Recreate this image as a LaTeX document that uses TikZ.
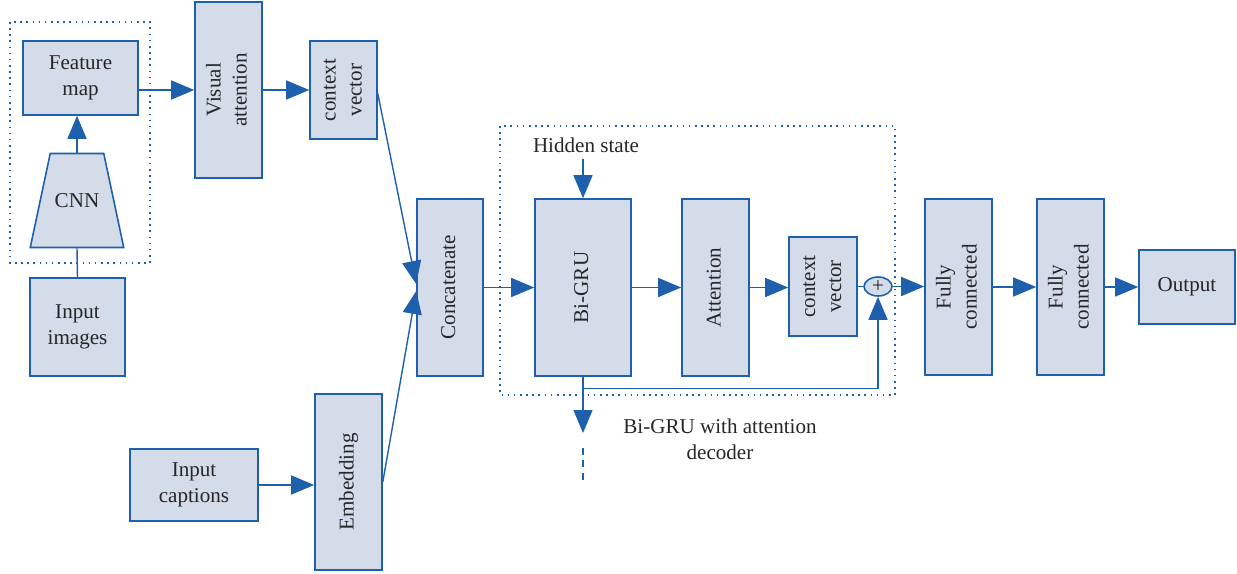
\documentclass[tikz,border=0pt]{standalone}
\usepackage{fontspec}
\setmainfont{Liberation Serif}
\usepackage{tikz}
\usetikzlibrary{arrows.meta}
\usetikzlibrary{calc,shapes}
\usetikzlibrary{positioning, fit, shapes.geometric}
\definecolor{lineblue}{RGB}{30,96,172}
\definecolor{boxfill}{RGB}{212,219,233}
\newcommand{\vtext}[1]{\rotatebox{90}{\begin{tabular}{@{}c@{}}#1\end{tabular}}}

\begin{document}
\begin{tikzpicture}[x=0.02cm,y=-0.02cm,
  every node/.style={font=\fontsize{12}{14.8}\selectfont,text=black!85},
  blk/.style={draw=lineblue,line width=0.9pt,fill=boxfill,inner sep=0pt,align=center},
  arr/.style={draw=lineblue,line width=0.8pt,-{Triangle[length=0.46cm,width=0.38cm]}},
  ln/.style={draw=lineblue,line width=0.8pt},
  grp/.style={draw=lineblue,line width=0.8pt,dash pattern=on 0.9pt off 2.6pt}]
\useasboundingbox (0,0) rectangle (1237,574);

% image branch
\draw[grp] (10,22) rectangle (150,263);
\node (fmap) at (80.5,78) [blk,minimum width=2.3cm,minimum height=1.48cm] {Feature\\map};
\node (cnn) at (77,200.5) [blk,trapezium,trapezium angle=78,inner xsep=0.09cm,inner ysep=0.8cm,text height=8pt,text depth=0pt] {CNN};
\node (inimg) at (77.5,327) [blk,minimum width=1.9cm,minimum height=1.96cm] {Input\\images};
\node (vatt) at (228.5,90) [blk,minimum width=1.34cm,minimum height=3.52cm] {\vtext{Visual\\attention}};
\node (cv1) at (343.5,90) [blk,minimum width=1.34cm,minimum height=1.96cm] {\vtext{context\\vector}};

% caption branch
\node (incap) at (194,485) [blk,minimum width=2.56cm,minimum height=1.44cm] {Input\\captions};
\node (embed) at (348.5,482) [blk,minimum width=1.34cm,minimum height=3.52cm] {\vtext{Embedding}};
\node (concat) at (450,287.5) [blk,minimum width=1.32cm,minimum height=3.54cm] {\vtext{Concatenate}};

% decoder
\draw[grp] (500,126) rectangle (895,395);
\node (hid) at (586,145) {Hidden state};
\node (bigru) at (583,287.5) [blk,minimum width=1.92cm,minimum height=3.54cm] {\vtext{Bi-GRU}};
\node (att) at (715.5,287.5) [blk,minimum width=1.34cm,minimum height=3.54cm] {\vtext{Attention}};
\node (cv2) at (823,286.5) [blk,minimum width=1.36cm,minimum height=1.98cm] {\vtext{context\\vector}};
\node (plus) at (878,286.5) [blk,ellipse,minimum width=0.56cm,minimum height=0.38cm] {+};
\node (dec) at (720,439) [align=center] {Bi-GRU with attention\\decoder};
\coordinate (gtip) at (583,433);
\coordinate (dsh1) at (583,448);
\coordinate (dsh2) at (583,482);

% output
\node (fc1) at (958.5,287) [blk,minimum width=1.34cm,minimum height=3.52cm] {\vtext{Fully\\connected}};
\node (fc2) at (1070.5,287) [blk,minimum width=1.34cm,minimum height=3.52cm] {\vtext{Fully\\connected}};
\node (out) at (1187,287) [blk,minimum width=1.92cm,minimum height=1.48cm] {Output};

\draw[ln] (inimg.north) -- (cnn.south);
\draw[arr] (cnn.north) -- (cnn.north |- fmap.south);
\draw[arr] (fmap.east |- vatt.west) -- (vatt.west);
\draw[arr] (vatt.east) -- (cv1.west);
\draw[arr] ([yshift=-2pt]cv1.east) -- ([yshift=2pt]concat.west);
\draw[arr] (incap.east) -- (incap.east -| embed.west);
\draw[arr] (embed.east) -- ([yshift=-2pt]concat.west);
\draw[arr] (concat.east) -- (bigru.west);
\draw[arr] (hid.south -| bigru.north) -- (bigru.north);
\draw[arr] (bigru.east) -- (att.west);
\draw[arr] (att.east) -- (att.east -| cv2.west);
\draw[ln] (cv2.east) -- (plus.west);
\draw[arr] (bigru.south) -- ++(0,12) -| (plus.south);
\draw[arr] (bigru.south) -- (gtip);
\draw[ln,dash pattern=on 4pt off 3pt] (dsh1) -- (dsh2);
\draw[arr] (plus.east) -- (plus.east -| fc1.west);
\draw[arr] (fc1.east) -- (fc2.west);
\draw[arr] (fc2.east) -- (out.west);
\end{tikzpicture}
\end{document}
